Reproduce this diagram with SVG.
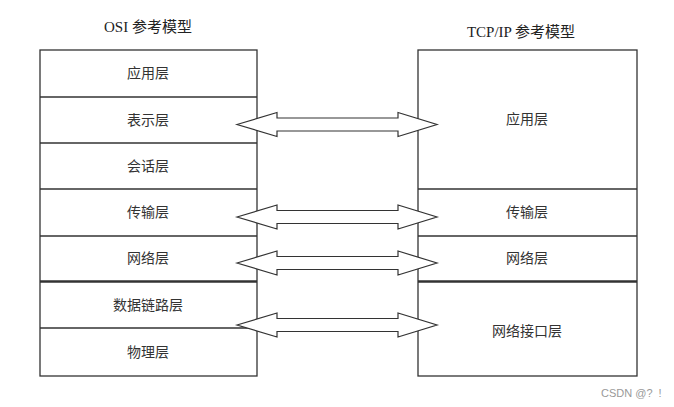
<svg xmlns="http://www.w3.org/2000/svg" width="674" height="407" viewBox="0 0 674 407">
<style>
.box{fill:#fff;stroke:#333;stroke-width:1.3}
.ln{stroke:#333;stroke-width:1.3}
.dl{stroke:#333;stroke-width:2.6}
.t{font-family:"Liberation Serif","Noto Sans CJK SC",serif;font-size:14px;fill:#333;text-anchor:middle;dominant-baseline:central}
.h{font-family:"Liberation Serif","Noto Sans CJK SC",serif;font-size:15px;fill:#222;text-anchor:middle}
.arr{fill:#fff;stroke:#333;stroke-width:1.2;stroke-linejoin:miter}
</style>
<defs>
<polygon id="dbl" class="arr" points="237,0 277,-12 277,-6.5 398,-6.5 398,-12 437,0 398,12 398,6.5 277,6.5 277,12"/>
</defs>
<rect width="674" height="407" fill="#fff"/>
<text class="h" x="148" y="32">OSI 参考模型</text>
<text class="h" x="521" y="37">TCP/IP 参考模型</text>
<g id="osi">
<rect class="box" x="40" y="50" width="217" height="326"/>
<line class="ln" x1="40" y1="97" x2="257" y2="97"/>
<line class="ln" x1="40" y1="143" x2="257" y2="143"/>
<line class="ln" x1="40" y1="189" x2="257" y2="189"/>
<line class="ln" x1="40" y1="236" x2="257" y2="236"/>
<line class="dl" x1="40" y1="281.5" x2="257" y2="281.5"/>
<line class="ln" x1="40" y1="328" x2="257" y2="328"/>
</g>
<g id="osi-app"><text class="t" x="148" y="73">应用层</text></g>
<g id="osi-pres"><text class="t" x="148" y="120">表示层</text></g>
<g id="osi-sess"><text class="t" x="148" y="166">会话层</text></g>
<g id="osi-trans"><text class="t" x="148" y="212">传输层</text></g>
<g id="osi-net"><text class="t" x="148" y="258">网络层</text></g>
<g id="osi-link"><text class="t" x="148" y="305">数据链路层</text></g>
<g id="osi-phy"><text class="t" x="148" y="352">物理层</text></g>
<g id="tcpip">
<rect class="box" x="418" y="50" width="219" height="326"/>
<line class="ln" x1="418" y1="189" x2="637" y2="189"/>
<line class="ln" x1="418" y1="236" x2="637" y2="236"/>
<line class="dl" x1="418" y1="281.5" x2="637" y2="281.5"/>
</g>
<g id="tcp-app"><text class="t" x="527" y="119">应用层</text></g>
<g id="tcp-trans"><text class="t" x="527" y="212">传输层</text></g>
<g id="tcp-net"><text class="t" x="527" y="258">网络层</text></g>
<g id="tcp-if"><text class="t" x="527" y="331">网络接口层</text></g>
<g id="connectors">
<use href="#dbl" y="124.5"/>
<use href="#dbl" y="217"/>
<use href="#dbl" y="263"/>
<use href="#dbl" y="325"/>
</g>
<text x="601" y="397" font-family="Liberation Sans,sans-serif" font-size="11" fill="#999" xml:space="preserve">CSDN @?  !</text>
</svg>
